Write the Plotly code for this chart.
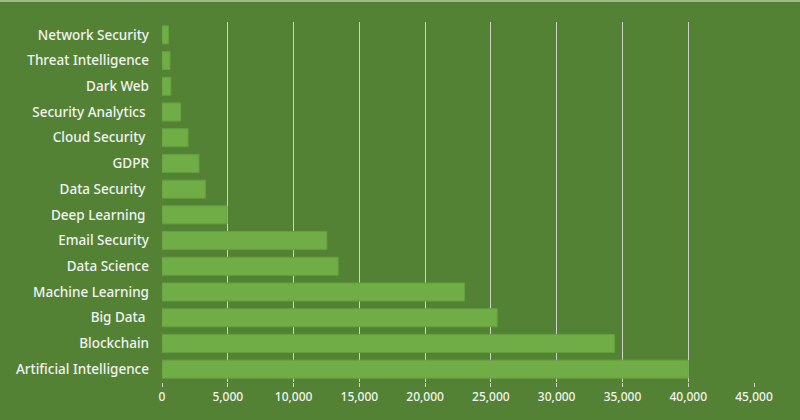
import plotly.graph_objs as go

topics = ['Network Security', 'Threat Intelligence', 'Dark Web', 'Security Analytics ',
          'Cloud Security ', 'GDPR', 'Data Security ', 'Deep Learning ', 'Email Security',
          'Data Science', 'Machine Learning', 'Big Data ', 'Blockchain', 'Artificial Intelligence']
counts = [500, 610, 670, 1420, 1980, 2810, 3300, 4950, 12530, 13390, 23000, 25480, 34390, 40000]

x_ticks = [0, 5000, 10000, 15000, 20000, 25000, 30000, 35000, 40000, 45000]

bg = '#548235'
trace = go.Bar(
    x=counts,
    y=topics,
    orientation='h',
    width=0.7,
    marker=dict(color='#70ad47', line=dict(color='#64a03e', width=1)),
    hoverinfo='skip',
)

layout = go.Layout(
    width=800, height=420,
    margin=dict(l=162, r=46, t=22, b=38),
    paper_bgcolor=bg, plot_bgcolor=bg,
    font=dict(family='Noto Sans, sans-serif', color='#f2f2f2', weight=500),
    showlegend=False,
    xaxis=dict(
        range=[0, 45000], tickvals=x_ticks, tickformat=',d',
        showgrid=True, gridcolor='#cfd3cb', gridwidth=1.2,
        zeroline=False, showline=False,
        ticks='outside', ticklen=4, tickcolor='#cfd3cb', tickwidth=1.2,
        tickfont=dict(size=12), fixedrange=True, automargin=False,
    ),
    yaxis=dict(
        autorange='reversed', showgrid=False, zeroline=False, showline=False,
        ticks='', ticklabelstandoff=12, tickfont=dict(size=13.5),
        automargin=False, fixedrange=True,
    ),
    shapes=[dict(type='line', xref='paper', yref='paper', x0=-1, x1=2, y0=1.058, y1=1.058,
                 line=dict(color='#9fb98a', width=2))],
)

fig = go.Figure(data=[trace], layout=layout)
# drop the default page margin so the chart sits at the window corner
fig.write_html('out.html', config={'displayModeBar': False},
               post_script="document.body.style.margin='0';")
